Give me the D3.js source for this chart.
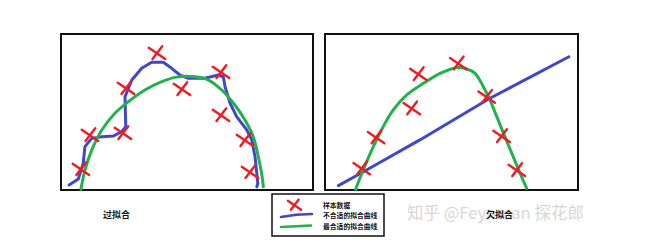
<!DOCTYPE html>
<html><head><meta charset="utf-8">
<script src="https://cdn.jsdelivr.net/npm/d3@7"></script>
<style>body{margin:0;background:#fff}svg{display:block}</style>
</head><body>
<script>
// ---- data (panel coordinates, 0-100 units) ----
const overSamples = [[38.1,87.8],[25.8,65.4],[48.0,64.7],[63.5,75.6],[63.5,48.1],[11.5,35.3],[24.6,36.5],[73.0,32.1],[7.9,13.5],[75.0,11.5]];
const overBadCurve = [[3.2,3.2],[6.9,7.1],[8.8,17.1],[9.5,27.8],[12.2,33.1],[16.2,34.2],[20.8,34.6],[24.1,37.4],[25.7,40.6],[25.4,59.8],[28.1,70.5],[32.0,78.0],[36.0,81.9],[40.6,81.9],[43.9,78.0],[47.2,73.7],[50.5,71.6],[57.1,71.6],[62.4,73.7],[64.4,72.6],[65.1,66.2],[67.1,55.6],[69.7,47.0],[73.7,38.5],[75.7,32.1],[77.0,21.3],[77.7,10.7],[78.1,4.3],[77.7,2.1]];
const overGoodCurve = [[7.9,0.4],[9.5,12.8],[12.2,25.6],[16.2,38.5],[21.4,49.2],[26.7,56.6],[33.3,64.1],[40.0,69.4],[45.2,72.2],[53.2,72.6],[58.5,70.5],[63.8,64.1],[69.0,54.5],[73.0,44.9],[76.3,34.2],[78.3,21.3],[79.6,10.7],[80.3,2.1]];
const underSamples = [[36.9,74.4],[52.7,81.2],[34.3,52.4],[63.9,59.8],[20.2,33.8],[69.8,34.6],[14.5,13.9],[75.8,12.8]];
const underBadCurve = [[5.3,2.8],[15.2,11.7],[37.5,32.1],[65.2,58.8],[96.4,85.4]];
const underGoodCurve = [[12.1,0.4],[15.1,12.8],[19.1,27.8],[23.0,40.6],[27.0,51.3],[32.3,60.9],[38.9,68.4],[45.5,74.8],[52.1,78.4],[56.0,77.6],[59.3,74.8],[62.6,66.2],[65.2,57.7],[67.9,47.0],[71.1,34.2],[74.4,21.3],[77.7,8.5],[79.7,1.1]];
const panelTitles = ["过拟合","欠拟合"];
const legendLabels = ["样本数据","不合适的拟合曲线","最合适的拟合曲线"];
const watermark = "知乎 @Feynman 探花郎";

const RED="#ed1c24", BLUE="#3f48cc", GREEN="#22b14c";
const W=655,H=243;
const svg=d3.select("body").append("svg").attr("width",W).attr("height",H);
svg.append("rect").attr("width",W).attr("height",H).attr("fill","#fff");

const panels=[
  {x0:61,x1:313,y0:34,y1:190,samples:overSamples,bad:overBadCurve,good:overGoodCurve},
  {x0:325,x1:578,y0:34,y1:190,samples:underSamples,bad:underBadCurve,good:underGoodCurve}
];

function drawX(g,cx,cy,s){
  g.append("path").attr("d",`M${cx-s*0.55},${cy-s*0.35} L${cx+s*0.55},${cy+s*0.4}`)
   .attr("stroke",RED).attr("stroke-width",2.4).attr("stroke-linecap","round").attr("fill","none");
  g.append("path").attr("d",`M${cx-s*0.3},${cy+s*0.4} L${cx+s*0.35},${cy-s*0.45}`)
   .attr("stroke",RED).attr("stroke-width",2.4).attr("stroke-linecap","round").attr("fill","none");
}

panels.forEach(p=>{
  const x=d3.scaleLinear().domain([0,100]).range([p.x0,p.x1]);
  const y=d3.scaleLinear().domain([0,100]).range([p.y1,p.y0]);
  const g=svg.append("g");
  g.append("rect").attr("x",p.x0).attr("y",p.y0).attr("width",p.x1-p.x0).attr("height",p.y1-p.y0)
    .attr("fill","#fff").attr("stroke","#111").attr("stroke-width",2);
  const smooth=d3.line().x(d=>x(d[0])).y(d=>y(d[1])).curve(d3.curveCatmullRom.alpha(0.5));
  const poly=d3.line().x(d=>x(d[0])).y(d=>y(d[1])).curve(d3.curveLinear);
  g.append("path").datum(p.bad).attr("d",poly).attr("fill","none").attr("stroke",BLUE)
    .attr("stroke-width",3).attr("stroke-linecap","round").attr("stroke-linejoin","round");
  g.append("path").datum(p.good).attr("d",smooth).attr("fill","none").attr("stroke",GREEN)
    .attr("stroke-width",3).attr("stroke-linecap","round").attr("stroke-linejoin","round");
  p.samples.forEach(d=>drawX(g,x(d[0]),y(d[1]),15));
});

// watermark
svg.append("text").attr("x",407).attr("y",219).text(watermark)
  .attr("font-family","'Noto Sans CJK SC','Noto Sans',sans-serif").attr("font-size",16.5)
  .attr("fill","#d6d6d6").attr("stroke","#fff").attr("stroke-width",0.6).attr("paint-order","stroke");

// panel titles
const tf="'Noto Sans CJK SC',sans-serif";
svg.append("text").attr("x",103).attr("y",217.5).text(panelTitles[0])
  .attr("font-family",tf).attr("font-size",9).attr("font-weight","bold").attr("fill","#111");
svg.append("text").attr("x",486).attr("y",217.5).text(panelTitles[1])
  .attr("font-family",tf).attr("font-size",9).attr("font-weight","bold").attr("fill","#111");

// legend
const lg=svg.append("g");
lg.append("rect").attr("x",272).attr("y",194).attr("width",112).attr("height",42)
  .attr("fill","#fff").attr("stroke","#111").attr("stroke-width",1.5);
drawX(lg,294.5,205,12);
lg.append("path").attr("d","M281,217 Q296,214 312,214").attr("stroke",BLUE).attr("stroke-width",2.6).attr("fill","none").attr("stroke-linecap","round");
lg.append("path").attr("d","M281,227 Q296,226 311,225.5").attr("stroke",GREEN).attr("stroke-width",2.6).attr("fill","none").attr("stroke-linecap","round");
const ly=[207.5,217.5,228.5];
legendLabels.forEach((t,i)=>{
  lg.append("text").attr("x",323).attr("y",ly[i]).text(t)
    .attr("font-family",tf).attr("font-size",6.8).attr("font-weight","bold").attr("fill","#111");
});
</script>
</body></html>
